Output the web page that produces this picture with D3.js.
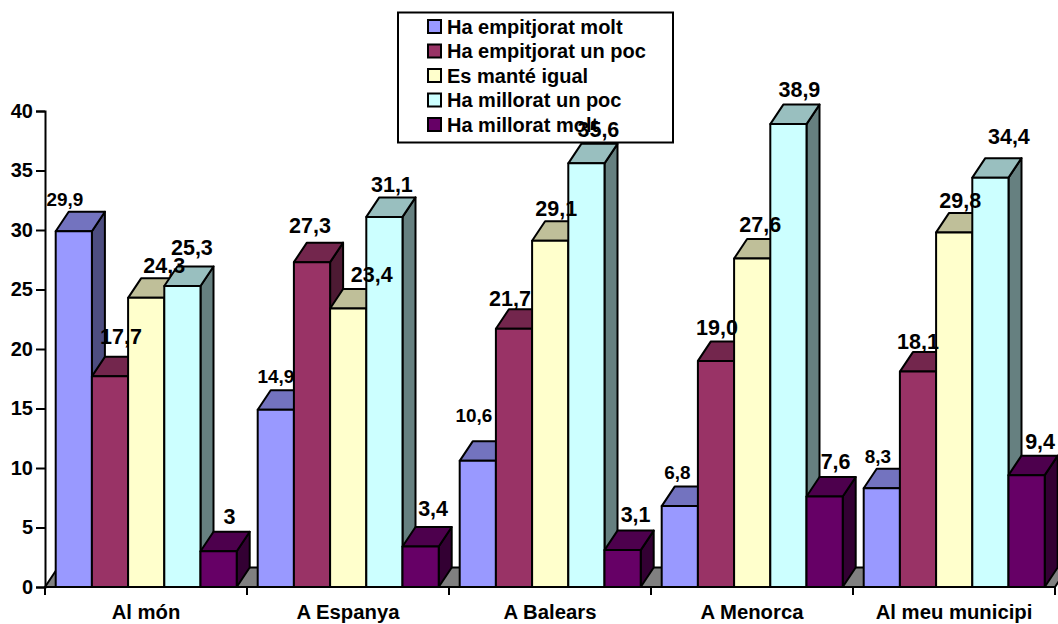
<!DOCTYPE html>
<html><head><meta charset="utf-8">
<script src="https://cdn.jsdelivr.net/npm/d3@7/dist/d3.min.js"></script>
<style>html,body{margin:0;padding:0;background:#fff}svg{display:block}text{font-family:"Liberation Sans",Arial,sans-serif;font-weight:bold;fill:#000}</style>
</head><body><svg id="c" width="1058" height="624"></svg>
<script>
const categories = ["Al món","A Espanya","A Balears","A Menorca","Al meu municipi"];
const seriesNames = ["Ha empitjorat molt","Ha empitjorat un poc","Es manté igual","Ha millorat un poc","Ha millorat molt"];
const empitjoratMolt = [29.9,14.9,10.6,6.8,8.3];
const empitjoratPoc = [17.7,27.3,21.7,19.0,18.1];
const manteIgual = [24.3,23.4,29.1,27.6,29.8];
const milloratPoc = [25.3,31.1,35.6,38.9,34.4];
const milloratMolt = [3,3.4,3.1,7.6,9.4];
const valueLabels = [
  ["29,9","14,9","10,6","6,8","8,3"],
  ["17,7","27,3","21,7","19,0","18,1"],
  ["24,3","23,4","29,1","27,6","29,8"],
  ["25,3","31,1","35,6","38,9","34,4"],
  ["3","3,4","3,1","7,6","9,4"]];
const yTicks = [0,5,10,15,20,25,30,35,40];
const colors = ["#9999FF","#993366","#FFFFCC","#CCFFFF","#660066"];
const series = [empitjoratMolt,empitjoratPoc,manteIgual,milloratPoc,milloratMolt];
// hand placed label shifts (dx from bar centre, baseline above the bar's back top)
const labelShift = [
  [[-9,6],[0,7],[-4,19.5],[-2.5,8],[-4,6]],
  [[11,13],[-2,10],[-4,3],[1,6],[0,3]],
  [[18,5],[23.5,7.5],[6,5.5],[8,7],[6,5]],
  [[9.5,11],[7.5,5],[12,7],[11,8],[18.5,14]],
  [[11,8],[12.5,11],[13,9],[11,8],[13.5,7]]];

const svg = d3.select("#c");
const dx = 13, dy = 19.5;
const x0 = 45, plotW = 1010, y0 = 587, yTop = 111;
const x = d3.scaleBand().domain(categories).range([x0, x0+plotW]);
const inner = d3.scaleBand().domain(d3.range(5)).range([10.7, 191.7]);
const y = d3.scaleLinear().domain([0,40]).range([y0,yTop]);
const line = "#000";

// floor
svg.append("path").attr("d",`M${x0},${y0}L${x0+dx},${y0-dy}L${x0+plotW+dx},${y0-dy}L${x0+plotW},${y0}Z`)
  .attr("fill","#808080").attr("stroke",line).attr("stroke-width",2);

const g = svg.append("g");
categories.forEach((c,ci)=>{
  series.forEach((s,si)=>{
    const l = x(c)+inner(si), w = inner.bandwidth(), t = y(s[ci]);
    const col = d3.color(colors[si]);
    const top = d3.rgb(col.r*.75,col.g*.75,col.b*.75), side = d3.rgb(col.r*.5,col.g*.5,col.b*.5);
    const bar = g.append("g").attr("stroke",line).attr("stroke-width",2).attr("stroke-linejoin","round");
    bar.append("path").attr("d",`M${l+w},${t}L${l+w+dx},${t-dy}L${l+w+dx},${y0-dy}L${l+w},${y0}Z`).attr("fill",side.formatHex());
    bar.append("path").attr("d",`M${l},${t}L${l+dx},${t-dy}L${l+w+dx},${t-dy}L${l+w},${t}Z`).attr("fill",top.formatHex());
    bar.append("rect").attr("x",l).attr("y",t).attr("width",w).attr("height",y0-t).attr("fill",colors[si]);
  });
});

// axes
const ax = svg.append("g").attr("transform",`translate(${x0},0)`)
  .call(d3.axisLeft(y).tickValues(yTicks).tickSize(9).tickPadding(3).tickFormat(d3.format("d")));
ax.select(".domain").attr("stroke",line).attr("stroke-width",2);
ax.selectAll(".tick line").attr("stroke",line).attr("stroke-width",2);
ax.selectAll("text").style("font-size","20px").attr("font-family",null);
const bx = svg.append("g").attr("transform",`translate(0,${y0})`)
  .call(d3.axisBottom(x).tickSize(0).tickPadding(18));
bx.select(".domain").attr("d",`M${x0},0H${x0+plotW}`).attr("stroke",line).attr("stroke-width",2);
bx.selectAll("text").style("font-size","20.3px").attr("font-family",null);
svg.append("g").selectAll("line").data(d3.range(6)).join("line")
  .attr("x1",i=>x0+i*x.step()).attr("x2",i=>x0+i*x.step()).attr("y1",y0).attr("y2",y0+8)
  .attr("stroke",line).attr("stroke-width",2);

// legend
const lg = svg.append("g");
lg.append("rect").attr("x",398).attr("y",12.5).attr("width",275).attr("height",130)
  .attr("fill","#fff").attr("stroke",line).attr("stroke-width",2);
const ly = d3.scalePoint().domain(seriesNames).range([26,124]);
seriesNames.forEach((n,i)=>{
  lg.append("rect").attr("x",428).attr("y",ly(n)-6).attr("width",13).attr("height",13)
    .attr("fill",colors[i]).attr("stroke",line).attr("stroke-width",2);
  lg.append("text").attr("x",447).attr("y",ly(n)+7.5).style("font-size","20px").text(n);
});

// data labels
series.forEach((s,si)=>{
  categories.forEach((c,ci)=>{
    const l = x(c)+inner(si), w = inner.bandwidth(), t = y(s[ci]);
    const sh = labelShift[si][ci];
    svg.append("text").attr("text-anchor","middle")
      .attr("x",l+w/2+sh[0]).attr("y",t-dy-sh[1])
      .style("font-size",si===0?"18.9px":"21.5px").text(valueLabels[si][ci]);
  });
});
</script></body></html>
